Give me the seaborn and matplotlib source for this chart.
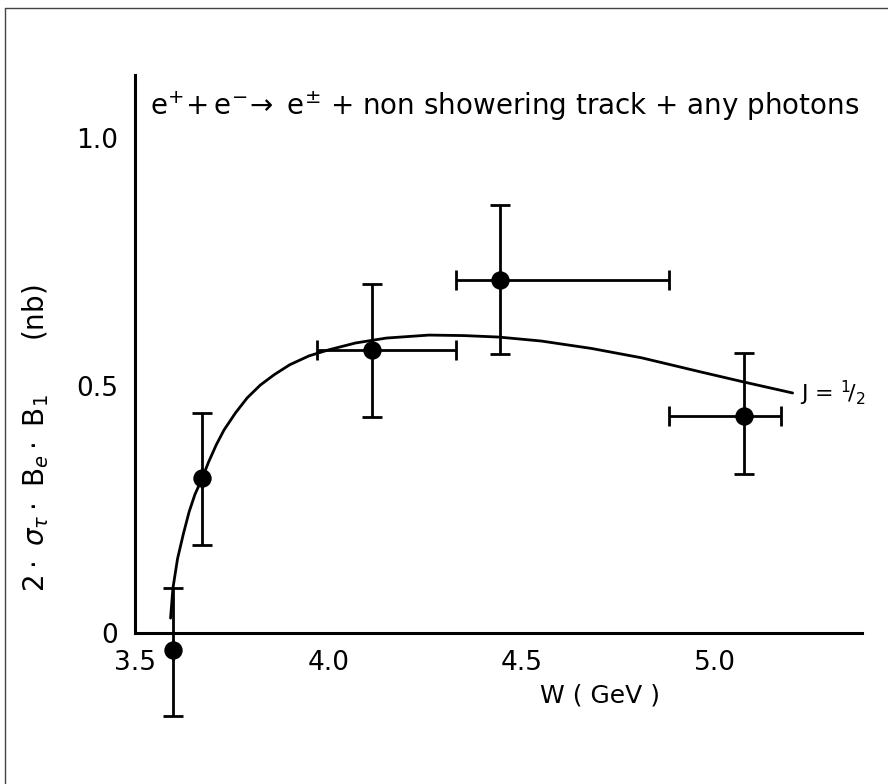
import numpy as np
import pandas as pd
import matplotlib
matplotlib.use("Agg")
import matplotlib.pyplot as plt
from matplotlib.lines import Line2D
import seaborn as sns

# measured points
w = [3.598, 3.674, 4.114, 4.443, 5.075]
sigma = [-0.034, 0.313, 0.572, 0.713, 0.438]
err_up = [0.125, 0.131, 0.133, 0.152, 0.128]
err_down = [0.134, 0.135, 0.136, 0.149, 0.117]
w_lo = [3.598, 3.674, 3.97, 4.33, 4.88]
w_hi = [3.598, 3.674, 4.33, 4.88, 5.17]

# J = 1/2 prediction
curve_w = [3.592, 3.598, 3.61, 3.625, 3.64, 3.655, 3.674, 3.69, 3.71, 3.73, 3.76,
           3.79, 3.824, 3.86, 3.90, 3.95, 4.00, 4.07, 4.15, 4.26, 4.35, 4.44, 4.55,
           4.68, 4.81, 4.96, 5.075, 5.20]
curve_s = [0.03, 0.09, 0.15, 0.20, 0.245, 0.28, 0.313, 0.345, 0.38, 0.41, 0.445,
           0.475, 0.501, 0.522, 0.542, 0.560, 0.572, 0.586, 0.596, 0.602, 0.601, 0.598, 0.590,
           0.575, 0.556, 0.528, 0.507, 0.485]

x_ticks = [3.5, 4.0, 4.5, 5.0]
x_ticklabels = ['3.5', '4.0', '4.5', '5.0']
y_ticks = [0, 0.5, 1.0]
y_ticklabels = ['0', '0.5', '1.0']

sns.set_style('white')
plt.rcParams['font.family'] = ['DejaVu Sans']
plt.rcParams['mathtext.fontset'] = 'dejavusans'
plt.rcParams['text.color'] = 'black'
plt.rcParams['axes.labelcolor'] = 'black'
plt.rcParams['xtick.color'] = 'black'
plt.rcParams['ytick.color'] = 'black'

fig = plt.figure(figsize=(8.88, 7.84), dpi=100)
ax = fig.add_axes([0.152, 0.1926, 0.819, 0.7114])

pts = pd.DataFrame({'W': w, 'sigma': sigma})
curve = pd.DataFrame({'W': curve_w, 'sigma': curve_s})

sns.lineplot(data=curve, x='W', y='sigma', color='black', linewidth=2, ax=ax, sort=False)

xerr = [np.array(w) - np.array(w_lo), np.array(w_hi) - np.array(w)]
ax.errorbar(w, sigma, yerr=[err_down, err_up], xerr=xerr, fmt='none',
            ecolor='black', elinewidth=2, capsize=7, capthick=2, clip_on=False)
sns.scatterplot(data=pts, x='W', y='sigma', color='black', s=150, edgecolor='black',
                ax=ax, clip_on=False, zorder=5)

ax.set_xlim(3.5, 5.38)
ax.set_ylim(0, 1.127)
ax.set_xticks(x_ticks)
ax.set_xticklabels(x_ticklabels)
ax.set_yticks(y_ticks)
ax.set_yticklabels(y_ticklabels)
ax.tick_params(direction='in', length=10, width=1.5, labelsize=19, pad=12)

for side in ['top', 'right']:
    ax.spines[side].set_visible(False)
for side in ['left', 'bottom']:
    ax.spines[side].set_linewidth(2.2)
    ax.spines[side].set_color('black')

ax.set_xlabel('W ( GeV )', fontsize=18)
ax.xaxis.set_label_coords(0.64, -0.09)
ax.set_ylabel(r'$2\cdot\ \sigma_{\tau}\cdot\ \mathrm{B}_{e}\cdot\ \mathrm{B}_{1}$      (nb)', fontsize=20)
ax.yaxis.set_label_coords(-0.115, 0.35)

ax.text(0.02, 0.945, r'$\mathrm{e}^{+}\!+\mathrm{e}^{-}\!\rightarrow\ \mathrm{e}^{\pm}$ + non showering track + any photons',
        transform=ax.transAxes, fontsize=20, ha='left', va='center')
ax.text(5.22, 0.485, r'J = $^{1}\!/_{2}$', fontsize=16, ha='left', va='center')

# scanned page border
fig.add_artist(Line2D([0.006, 1.0], [0.99, 0.99], color='#444444', linewidth=1, transform=fig.transFigure))
fig.add_artist(Line2D([0.006, 0.006], [0.0, 0.99], color='#444444', linewidth=1, transform=fig.transFigure))

fig.savefig('out.png', dpi=100)
